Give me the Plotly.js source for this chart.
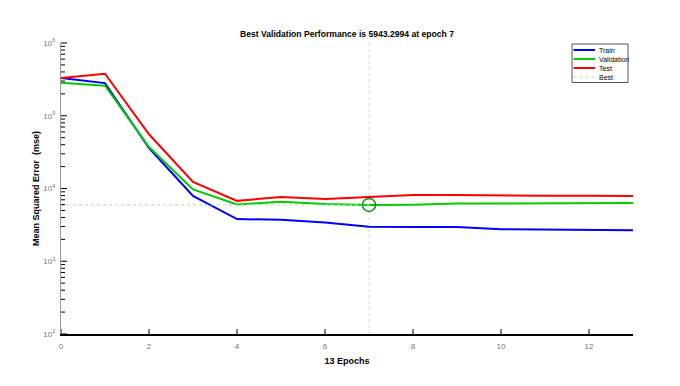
<!DOCTYPE html>
<html>
<head>
<meta charset="utf-8">
<script src="https://cdn.plot.ly/plotly-3.0.1.min.js"></script>
<style>
  html, body { margin: 0; padding: 0; background: #fff; }
  #chart { width: 680px; height: 386px; }
</style>
</head>
<body>
<div id="chart"></div>
<script>
// epochs and mse per epoch
const epochs = [0, 1, 2, 3, 4, 5, 6, 7, 8, 9, 10, 11, 12, 13];
const trainMse = [331000, 281000, 36000, 7900, 3800, 3710, 3420, 2970, 2950, 2950, 2760, 2730, 2700, 2670];
const validMse = [284000, 259000, 37200, 9700, 6030, 6550, 6100, 5943.2994, 5990, 6200, 6200, 6250, 6280, 6340];
const testMse = [331000, 378000, 55600, 12300, 6760, 7670, 7200, 7670, 8170, 8170, 8000, 7950, 7950, 7900];

const bestEpoch = 7;
const bestPerf = 5943.2994;
const yLimits = [100, 1000000];
const xTicks = [0, 2, 4, 6, 8, 10, 12];
const yTicks = [100, 1000, 10000, 100000, 1000000];
const yTickText = ["10<sup>2</sup>", "10<sup>3</sup>", "10<sup>4</sup>", "10<sup>5</sup>", "10<sup>6</sup>"];

const font = "Liberation Sans, Arial, sans-serif";

// minor ticks 2..9 inside each decade
const yMinor = [];
yTicks.slice(0, -1).forEach(d => { for (let k = 2; k <= 9; k++) yMinor.push(d * k); });

const traces = [
  { x: epochs, y: trainMse, mode: "lines", name: "Train", line: { color: "#0000ff", width: 2 } },
  { x: epochs, y: validMse, mode: "lines", name: "Validation", line: { color: "#00cc00", width: 2 } },
  { x: epochs, y: testMse, mode: "lines", name: "Test", line: { color: "#ff0000", width: 2 } },
  {
    x: [0, bestEpoch], y: [bestPerf, bestPerf], mode: "lines", name: "Best",
    line: { color: "#b4d8b4", width: 1, dash: "dot" }
  },
  {
    x: [bestEpoch, bestEpoch], y: yLimits, mode: "lines", name: "Best",
    line: { color: "#d8d8d8", width: 1, dash: "dot" }
  },
  {
    x: [bestEpoch], y: [bestPerf], mode: "markers", name: "",
    marker: { symbol: "circle-open", size: 13, color: "#1a8a1a", line: { width: 1.5, color: "#1a8a1a" } }
  }
];

// plot area in pixels -> paper fractions
const plotW = 572, plotH = 291;
const px = x => (x - 61) / plotW;
const py = y => 1 - (y - 43) / plotH;
const logFrac = v => (Math.log10(v) - 2) / 4;

const shapes = [];
// tick marks drawn inside the axes
xTicks.forEach(t => shapes.push({
  type: "line", xref: "x", yref: "paper", x0: t, x1: t, y0: 0, y1: 5 / plotH,
  line: { color: "#000", width: 1 }
}));
yTicks.forEach(t => shapes.push({
  type: "line", xref: "paper", yref: "paper", x0: 0, x1: 6 / plotW, y0: logFrac(t), y1: logFrac(t),
  line: { color: "#000", width: 1 }
}));
yMinor.forEach(t => shapes.push({
  type: "line", xref: "paper", yref: "paper", x0: 0, x1: 4 / plotW, y0: logFrac(t), y1: logFrac(t),
  line: { color: "#000", width: 1 }
}));

// hand-made compact legend (plotly's own rows are too tall at this size)
const legendItems = traces.slice(0, 4);
const rowY = [50, 59, 68, 77];
shapes.push({
  type: "rect", xref: "paper", yref: "paper",
  x0: px(572), x1: px(628), y0: py(44), y1: py(82.5),
  line: { color: "#555", width: 1 }, fillcolor: "#fff", layer: "above"
});
const annotations = [];
legendItems.forEach((t, i) => {
  shapes.push({
    type: "line", xref: "paper", yref: "paper", layer: "above",
    x0: px(573.5), x1: px(595), y0: py(rowY[i]), y1: py(rowY[i]),
    line: { color: t.line.color, width: t.line.width, dash: t.line.dash || "solid" }
  });
  annotations.push({
    xref: "paper", yref: "paper", x: px(597), y: py(rowY[i]),
    xanchor: "left", yanchor: "middle", showarrow: false,
    text: t.name, font: { family: font, size: 7, color: "#000" }
  });
});

const layout = {
  width: 680,
  height: 386,
  margin: { l: 61, r: 47, t: 43, b: 52 },
  paper_bgcolor: "#fff",
  plot_bgcolor: "#fff",
  font: { family: font, size: 8, color: "#000" },
  showlegend: false,
  title: {
    text: "<b>Best Validation Performance is 5943.2994 at epoch 7</b>",
    font: { family: font, size: 8.6, color: "#000" },
    x: 0.5, xref: "paper", xanchor: "center",
    y: 1, yref: "paper", yanchor: "bottom", pad: { b: 6 }
  },
  xaxis: {
    range: [0, 13],
    tickvals: xTicks,
    ticks: "", ticklabelstandoff: 4,
    showline: true, linecolor: "#000", linewidth: 1.5,
    showgrid: false, zeroline: false,
    tickfont: { family: font, size: 8, color: "#777" },
    title: { text: "<b>13 Epochs</b>", font: { family: font, size: 9, color: "#000" }, standoff: 7 }
  },
  yaxis: {
    type: "log",
    range: [2, 6],
    tickvals: yTicks,
    ticktext: yTickText,
    ticks: "", ticklabelstandoff: 3,
    showline: true, linecolor: "#999", linewidth: 1,
    showgrid: false, zeroline: false,
    tickfont: { family: font, size: 8, color: "#777" },
    title: { text: "<b>Mean Squared Error  (mse)</b>", font: { family: font, size: 9, color: "#000" }, standoff: 2 }
  },
  shapes: shapes,
  annotations: annotations
};

Plotly.newPlot("chart", traces, layout, { displayModeBar: false, staticPlot: true });
</script>
</body>
</html>
